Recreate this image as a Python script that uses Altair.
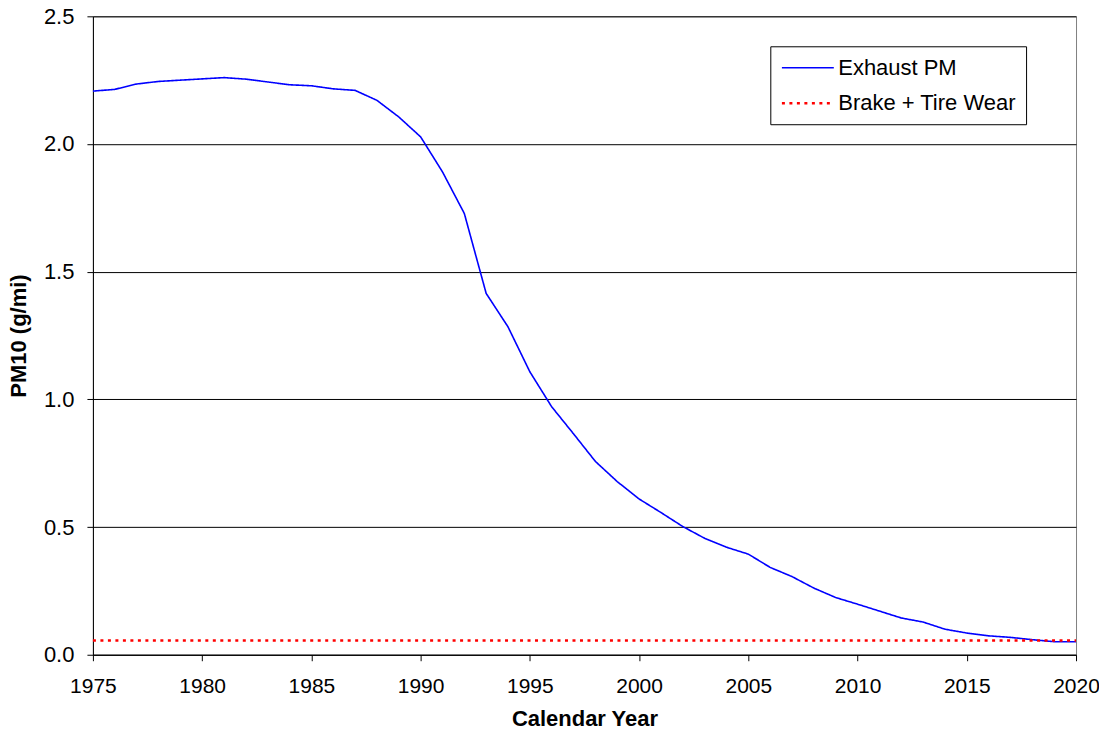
import altair as alt
import pandas as pd

years = list(range(1975, 2021))
exhaust_pm = [2.207, 2.214, 2.235, 2.245, 2.250, 2.255, 2.260, 2.254, 2.243, 2.232,
              2.228, 2.216, 2.210, 2.171, 2.106, 2.028, 1.891, 1.728, 1.415, 1.284,
              1.108, 0.971, 0.865, 0.757, 0.678, 0.610, 0.557, 0.502, 0.456, 0.421,
              0.394, 0.342, 0.306, 0.261, 0.224, 0.198, 0.171, 0.144, 0.128, 0.100,
              0.085, 0.074, 0.068, 0.059, 0.051, 0.051]
brake_tire = [0.056, 0.056, 0.056, 0.056, 0.056, 0.056, 0.056, 0.056, 0.056, 0.056,
              0.056, 0.056, 0.056, 0.056, 0.056, 0.056, 0.056, 0.056, 0.056, 0.056,
              0.056, 0.056, 0.056, 0.056, 0.056, 0.056, 0.056, 0.056, 0.056, 0.056,
              0.056, 0.056, 0.056, 0.056, 0.056, 0.056, 0.056, 0.056, 0.056, 0.056,
              0.056, 0.056, 0.056, 0.056, 0.056, 0.056]
series_names = ["Exhaust PM", "Brake + Tire Wear"]
x_ticks = [1975, 1980, 1985, 1990, 1995, 2000, 2005, 2010, 2015, 2020]
y_ticks = [0.0, 0.5, 1.0, 1.5, 2.0, 2.5]

rows = []
for y, v in zip(years, exhaust_pm):
    rows.append({"year": y, "value": v, "series": series_names[0]})
for y, v in zip(years, brake_tire):
    rows.append({"year": y, "value": v, "series": series_names[1]})
df = pd.DataFrame(rows)

FONT = "Liberation Sans"
FS = 22

legend_opts = dict(title=None, orient="none", legendX=678, legendY=30,
                   padding=10, rowPadding=12, symbolType="M-1,0L4,0",
                   symbolSize=432, symbolStrokeWidth=2, labelOffset=34,
                   labelFontSize=FS, labelFont=FONT, labelColor="black",
                   strokeColor="black", fillColor="white", labelLimit=400)

chart = alt.Chart(df).mark_line().encode(
    x=alt.X("year:Q",
            scale=alt.Scale(domain=[1975, 2020], nice=False, zero=False),
            axis=alt.Axis(title="Calendar Year", values=x_ticks, format="d",
                          grid=False, tickSize=6, labelPadding=15, titlePadding=12,
                          labelFlush=False, labelFontSize=21)),
    y=alt.Y("value:Q",
            scale=alt.Scale(domain=[0, 2.5], nice=False),
            axis=alt.Axis(title="PM10 (g/mi)", values=y_ticks, format=".1f",
                          grid=True, tickSize=6, labelPadding=13, titlePadding=13)),
    color=alt.Color("series:N",
                    scale=alt.Scale(domain=series_names, range=["#0000ff", "#ff0000"]),
                    legend=alt.Legend(**legend_opts)),
    strokeDash=alt.StrokeDash("series:N",
                              scale=alt.Scale(domain=series_names, range=[[1, 0], [3, 4.5]]),
                              legend=alt.Legend(**legend_opts)),
    strokeWidth=alt.StrokeWidth("series:N",
                                scale=alt.Scale(domain=series_names, range=[1.6, 2.6]),
                                legend=None),
    order=alt.Order("year:Q"),
).properties(
    width=984, height=639,
    background="white",
    autosize=alt.AutoSizeParams(type="none"),
    padding={"left": 85, "top": 8, "right": 23, "bottom": 75},
).configure_view(
    stroke="#808080", strokeWidth=1
).configure_axis(
    labelFont=FONT, labelFontSize=FS, labelColor="black",
    titleFont=FONT, titleFontSize=FS, titleFontWeight="bold", titleColor="black",
    domainColor="black", domainWidth=1, tickColor="black", tickWidth=1,
    gridColor="black", gridWidth=1, gridOpacity=1
)

chart.save("out.html", embed_options={"renderer": "svg", "actions": False})
